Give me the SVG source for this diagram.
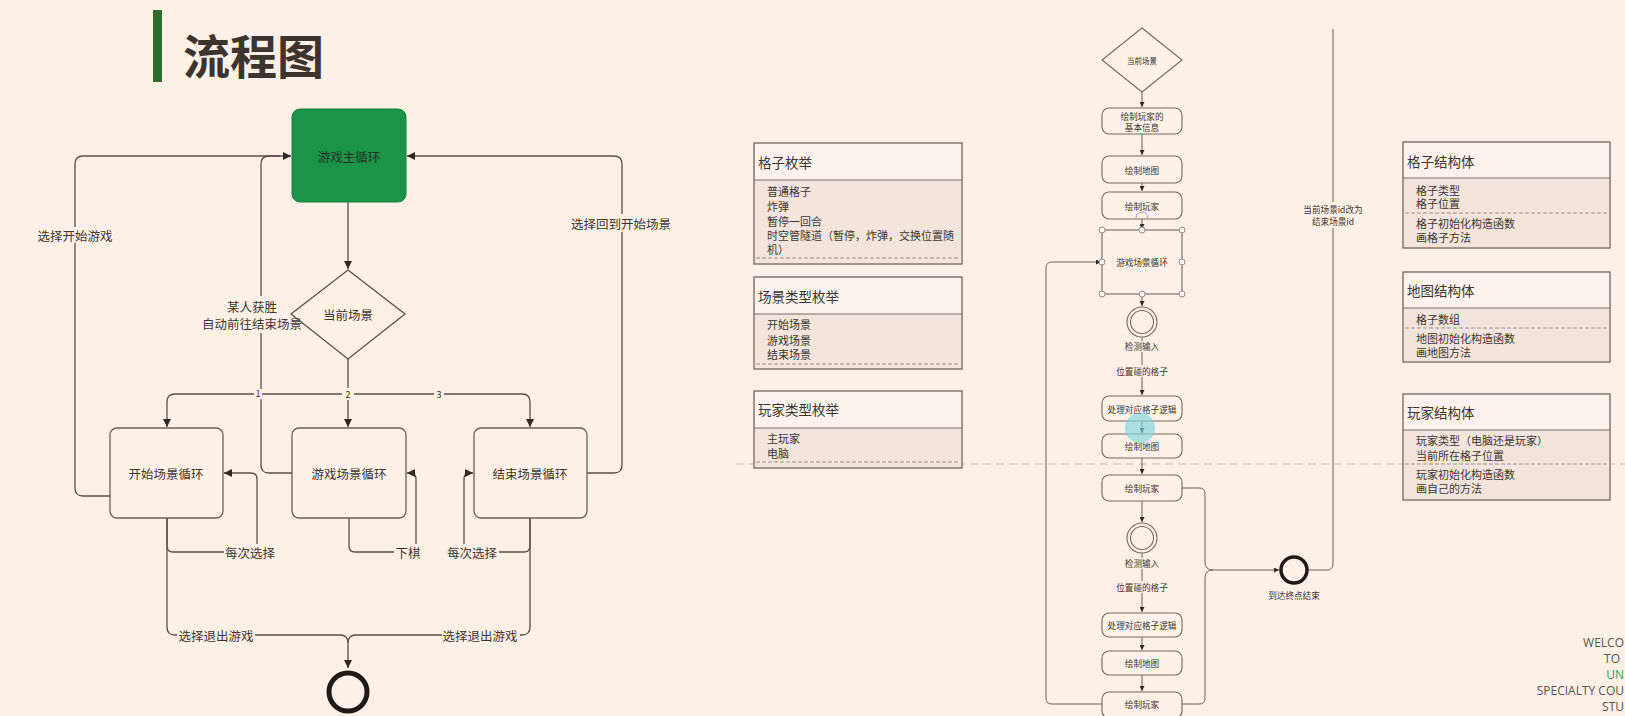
<svg xmlns="http://www.w3.org/2000/svg" width="1625" height="716" viewBox="0 0 1625 716">
<defs>
  <style>
    .bg{fill:#fdf0e6}
    .ln{fill:none;stroke:#5a4e48;stroke-width:1.3}
    .lnT{fill:none;stroke:#6a5e58;stroke-width:1}
    .box{fill:#fdf1e8;stroke:#6b5e57;stroke-width:1.3}
    .sbox{fill:#fdf1e8;stroke:#74685f;stroke-width:1.1}
    .hdr{fill:#fdf3ec;stroke:#7a6e67;stroke-width:1.4}
    .body{fill:#f3e5db}
    .sep{stroke:#7a6e67;stroke-width:1.2}
    .dash{stroke:#9b8f88;stroke-width:1;stroke-dasharray:4 2}
    .t{font-family:"Noto Sans CJK SC","Noto Sans",sans-serif;fill:#3b3531;dominant-baseline:central;text-anchor:middle}
    .l{text-anchor:start}
    .f12{font-size:12.5px}
    .f13{font-size:13.5px}
    .f11{font-size:11px}
    .f9{font-size:8.6px}
    .f7{font-size:7.5px}
    .h{fill:#fff;stroke:#8a7e77;stroke-width:0.9}
  </style>
  <marker id="arr" viewBox="0 0 10 10" refX="10" refY="5" markerWidth="8" markerHeight="8" markerUnits="userSpaceOnUse" orient="auto">
    <path d="M0,0 L10,5 L0,10 z" fill="#2f2824"/>
  </marker>
  <marker id="arrS" viewBox="0 0 10 10" refX="10" refY="5" markerWidth="5" markerHeight="5" markerUnits="userSpaceOnUse" orient="auto">
    <path d="M0,0 L10,5 L0,10 z" fill="#2f2824"/>
  </marker>
</defs>

<rect x="0" y="0" width="1625" height="716" class="bg"/>

<!-- page divider -->
<line x1="736" y1="464" x2="1625" y2="464" stroke="#c2b6ae" stroke-width="1" stroke-dasharray="8 5"/>

<!-- heading -->
<g id="title">
  <rect x="153" y="10" width="9" height="72" fill="#2e6b2c"/>
  <text x="183" y="53" class="t l" style="font-size:47px;font-weight:700;fill:#3d342e">流程图</text>
</g>

<!-- ===== scene flow (left) ===== -->
<g id="connectors-left">
  <!-- main loop -> scene choice -->
  <path class="ln" d="M348,202 V269" marker-end="url(#arr)"/>
  <!-- branch bus -->
  <path class="ln" d="M348,359 V394"/>
  <path class="ln" d="M348,394 H175 q-8,0 -8,8 V427" marker-end="url(#arr)"/>
  <path class="ln" d="M348,394 V427" marker-end="url(#arr)"/>
  <path class="ln" d="M348,394 H522 q8,0 8,8 V427" marker-end="url(#arr)"/>
  <!-- start scene -> main loop -->
  <path class="ln" d="M110,496 H83 q-8,0 -8,-8 V164 q0,-8 8,-8 H291" marker-end="url(#arr)"/>
  <!-- game scene -> main loop -->
  <path class="ln" d="M292,473 H269 q-8,0 -8,-8 V164 q0,-8 8,-8 H280"/>
  <!-- end scene -> main loop -->
  <path class="ln" d="M587,473 H614 q8,0 8,-8 V164 q0,-8 -8,-8 H407" marker-end="url(#arr)"/>
  <!-- self loops -->
  <path class="ln" d="M167,518 V546 q0,6 6,6 H251 q6,0 6,-6 V479 q0,-6 -6,-6 H224" marker-end="url(#arr)"/>
  <path class="ln" d="M349,518 V546 q0,6 6,6 H410 q6,0 6,-6 V479 q0,-6 -6,-6 H407" marker-end="url(#arr)"/>
  <path class="ln" d="M530,518 V546 q0,6 -6,6 H470 q-6,0 -6,-6 V479 q0,-6 6,-6 H473" marker-end="url(#arr)"/>
  <!-- exits -->
  <path class="ln" d="M167,518 V627 q0,8 8,8 H340 q8,0 8,8 V668" marker-end="url(#arr)"/>
  <path class="ln" d="M530,518 V627 q0,8 -8,8 H356 q-8,0 -8,8"/>

  <!-- labels on lines -->
  <rect x="36" y="227" width="78" height="16" class="bg"/>
  <text x="75" y="235" class="t f12">选择开始游戏</text>
  <rect x="250" y="296" width="22" height="37" class="bg"/>
  <text x="252" y="306" class="t f12">某人获胜</text>
  <text x="252" y="323" class="t f12">自动前往结束场景</text>
  <rect x="612" y="214" width="18" height="18" class="bg"/>
  <text x="621" y="223" class="t f12">选择回到开始场景</text>
  <rect x="224" y="544" width="53" height="16" class="bg"/>
  <text x="250" y="552" class="t f12">每次选择</text>
  <rect x="394" y="544" width="28" height="16" class="bg"/>
  <text x="408" y="552" class="t f12">下棋</text>
  <rect x="445" y="544" width="54" height="16" class="bg"/>
  <text x="472" y="552" class="t f12">每次选择</text>
  <rect x="177" y="627" width="78" height="16" class="bg"/>
  <text x="216" y="635" class="t f12">选择退出游戏</text>
  <rect x="442" y="627" width="78" height="16" class="bg"/>
  <text x="480" y="635" class="t f12">选择退出游戏</text>
  <rect x="254" y="389" width="8" height="10" class="bg"/>
  <text x="258" y="393" class="t" style="font-size:9px">1</text>
  <rect x="342" y="388" width="12" height="12" class="bg"/>
  <text x="348" y="394" class="t" style="font-size:9px">2</text>
  <rect x="434" y="388" width="10" height="12" class="bg"/>
  <text x="439" y="394" class="t" style="font-size:9px">3</text>
</g>

<g id="main-loop">
  <rect x="292" y="109" width="114" height="93" rx="8" fill="#1b9447" stroke="#178040" stroke-width="1"/>
  <text x="349" y="156" class="t f12" style="fill:#26302a">游戏主循环</text>
</g>
<g id="scene-choice">
  <polygon points="348,270 405,314 348,359 291,314" fill="none" stroke="#5a4e48" stroke-width="1.3"/>
  <text x="348" y="314" class="t f12">当前场景</text>
</g>
<g id="start-scene">
  <rect x="110" y="428" width="113" height="90" rx="7" class="box"/>
  <text x="166" y="473" class="t f12">开始场景循环</text>
</g>
<g id="game-scene">
  <rect x="292" y="428" width="114" height="90" rx="7" class="box"/>
  <text x="349" y="473" class="t f12">游戏场景循环</text>
</g>
<g id="end-scene">
  <rect x="474" y="428" width="113" height="90" rx="7" class="box"/>
  <text x="530" y="473" class="t f12">结束场景循环</text>
</g>
<g id="exit">
  <circle cx="348" cy="692" r="19" fill="none" stroke="#1f1a17" stroke-width="5"/>
</g>

<!-- ===== enum tables ===== -->
<g id="enum-cell">
  <rect x="754" y="143" width="208" height="121" class="hdr"/>
  <rect x="755" y="180" width="206" height="83" class="body"/>
  <line x1="754" y1="180" x2="962" y2="180" class="sep"/>
  <line x1="756" y1="258" x2="960" y2="258" class="dash"/>
  <text x="758" y="162" class="t l f13">格子枚举</text>
  <text x="767" y="191" class="t l f11">普通格子</text>
  <text x="767" y="206" class="t l f11">炸弹</text>
  <text x="767" y="221" class="t l f11">暂停一回合</text>
  <text x="767" y="235" class="t l f11">时空管隧道（暂停，炸弹，交换位置随</text>
  <text x="767" y="249" class="t l f11">机）</text>
</g>
<g id="enum-scene">
  <rect x="754" y="277" width="208" height="92" class="hdr"/>
  <rect x="755" y="314" width="206" height="54" class="body"/>
  <line x1="754" y1="314" x2="962" y2="314" class="sep"/>
  <line x1="756" y1="364" x2="960" y2="364" class="dash"/>
  <text x="758" y="296" class="t l f13">场景类型枚举</text>
  <text x="767" y="324" class="t l f11">开始场景</text>
  <text x="767" y="340" class="t l f11">游戏场景</text>
  <text x="767" y="354" class="t l f11">结束场景</text>
</g>
<g id="enum-player">
  <rect x="754" y="391" width="208" height="77" class="hdr"/>
  <rect x="755" y="428" width="206" height="39" class="body"/>
  <line x1="754" y1="428" x2="962" y2="428" class="sep"/>
  <line x1="756" y1="462" x2="960" y2="462" class="dash"/>
  <text x="758" y="409" class="t l f13">玩家类型枚举</text>
  <text x="767" y="438" class="t l f11">主玩家</text>
  <text x="767" y="453" class="t l f11">电脑</text>
</g>

<!-- ===== game scene loop (right) ===== -->
<g id="connectors-right">
  <path class="lnT" d="M1142,92 V107" marker-end="url(#arrS)"/>
  <path class="lnT" d="M1142,134 V155" marker-end="url(#arrS)"/>
  <path class="lnT" d="M1142,183 V191" marker-end="url(#arrS)"/>
  <path class="lnT" d="M1142,219 V229" marker-end="url(#arrS)"/>
  <path class="lnT" d="M1142,294 V306" marker-end="url(#arrS)"/>
  <path class="lnT" d="M1142,337 V395" marker-end="url(#arrS)"/>
  <path class="lnT" d="M1142,421 V433" marker-end="url(#arrS)"/>
  <path class="lnT" d="M1142,458 V474" marker-end="url(#arrS)"/>
  <path class="lnT" d="M1142,501 V522" marker-end="url(#arrS)"/>
  <path class="lnT" d="M1142,553 V612" marker-end="url(#arrS)"/>
  <path class="lnT" d="M1142,637 V650" marker-end="url(#arrS)"/>
  <path class="lnT" d="M1142,675 V691" marker-end="url(#arrS)"/>
  <!-- to finish -->
  <path class="lnT" d="M1182,488 H1199 q6,0 6,6 V562 q0,8 8,8 H1279" marker-end="url(#arrS)"/>
  <path class="lnT" d="M1182,704 H1199 q6,0 6,-6 V578 q0,-8 8,-8"/>
  <!-- back to scene loop -->
  <path class="lnT" d="M1102,704 H1052 q-6,0 -6,-6 V268 q0,-6 6,-6 H1101" marker-end="url(#arrS)"/>
  <!-- scene switch -->
  <path class="lnT" d="M1307,570 H1327 q6,0 6,-6 V29"/>

  <rect x="1122" y="341" width="40" height="11" class="bg"/>
  <text x="1142" y="346" class="t f9">检测输入</text>
  <rect x="1114" y="365" width="56" height="12" class="bg"/>
  <text x="1142" y="371" class="t f9">位置碰的格子</text>
  <rect x="1122" y="558" width="40" height="11" class="bg"/>
  <text x="1142" y="563" class="t f9">检测输入</text>
  <rect x="1114" y="581" width="56" height="12" class="bg"/>
  <text x="1142" y="587" class="t f9">位置碰的格子</text>
  <rect x="1301" y="202" width="64" height="26" class="bg"/>
  <text x="1333" y="209" class="t f9">当前场景id改为</text>
  <text x="1333" y="221" class="t f9">结束场景id</text>
</g>

<g id="r-scene">
  <polygon points="1142,28 1182,60 1142,92 1102,60" fill="#fdf1e8" stroke="#74685f" stroke-width="1.1"/>
  <text x="1142" y="60" class="t f7">当前场景</text>
</g>
<g id="r-info">
  <rect x="1102" y="108" width="80" height="26" rx="7" class="sbox"/>
  <text x="1142" y="116" class="t f9">绘制玩家的</text>
  <text x="1142" y="127" class="t f9">基本信息</text>
</g>
<g id="r-map1">
  <rect x="1102" y="156" width="80" height="27" rx="7" class="sbox"/>
  <text x="1142" y="169.5" class="t f9">绘制地图</text>
</g>
<g id="r-player1">
  <rect x="1102" y="192" width="80" height="27" rx="7" class="sbox"/>
  <text x="1142" y="205.5" class="t f9">绘制玩家</text>
  <path d="M1136,218 a6,6 0 0 1 12,0" fill="none" stroke="#a89d96" stroke-width="1"/>
</g>
<g id="r-loop">
  <rect x="1102" y="230" width="80" height="64" class="sbox"/>
  <text x="1142" y="262" class="t f9">游戏场景循环</text>
  <circle cx="1142" cy="262" r="2" fill="#f2b01e"/>
  <circle cx="1102" cy="230" r="3" class="h"/>
  <circle cx="1142" cy="230" r="3" class="h"/>
  <circle cx="1182" cy="230" r="3" class="h"/>
  <circle cx="1102" cy="262" r="3" class="h"/>
  <circle cx="1182" cy="262" r="3" class="h"/>
  <circle cx="1102" cy="294" r="3" class="h"/>
  <circle cx="1142" cy="294" r="3" class="h"/>
  <circle cx="1182" cy="294" r="3" class="h"/>
</g>
<g id="r-input1">
  <circle cx="1142" cy="322" r="15" fill="#fdf1e8" stroke="#74685f" stroke-width="1.1"/>
  <circle cx="1142" cy="322" r="11.5" fill="none" stroke="#74685f" stroke-width="1.1"/>
</g>
<g id="r-cell1">
  <rect x="1102" y="396" width="80" height="25" rx="7" class="sbox"/>
  <text x="1142" y="408.5" class="t f9">处理对应格子逻辑</text>
</g>
<g id="r-map2">
  <rect x="1102" y="434" width="80" height="24" rx="7" class="sbox"/>
  <text x="1142" y="446" class="t f9">绘制地图</text>
</g>
<g id="r-player2">
  <rect x="1102" y="475" width="80" height="26" rx="7" class="sbox"/>
  <text x="1142" y="488" class="t f9">绘制玩家</text>
</g>
<g id="r-input2">
  <circle cx="1142" cy="538" r="15" fill="#fdf1e8" stroke="#74685f" stroke-width="1.1"/>
  <circle cx="1142" cy="538" r="11.5" fill="none" stroke="#74685f" stroke-width="1.1"/>
</g>
<g id="r-cell2">
  <rect x="1102" y="613" width="80" height="24" rx="7" class="sbox"/>
  <text x="1142" y="625" class="t f9">处理对应格子逻辑</text>
</g>
<g id="r-map3">
  <rect x="1102" y="651" width="80" height="24" rx="7" class="sbox"/>
  <text x="1142" y="663" class="t f9">绘制地图</text>
</g>
<g id="r-player3">
  <rect x="1102" y="692" width="80" height="26" rx="7" class="sbox"/>
  <text x="1142" y="704" class="t f9">绘制玩家</text>
</g>
<g id="r-finish">
  <circle cx="1294" cy="570" r="13" fill="none" stroke="#1f1a17" stroke-width="3.5"/>
  <text x="1294" y="595" class="t f9">到达终点结束</text>
</g>
<!-- pointer highlight -->
<circle cx="1140" cy="428" r="15" fill="#7fd4dd" opacity="0.65"/>

<!-- ===== struct tables ===== -->
<g id="struct-cell">
  <rect x="1403" y="142" width="207" height="106" class="hdr"/>
  <rect x="1404" y="178" width="205" height="69" class="body"/>
  <line x1="1403" y1="178" x2="1610" y2="178" class="sep"/>
  <line x1="1405" y1="213" x2="1608" y2="213" class="dash"/>
  <text x="1407" y="161" class="t l f13">格子结构体</text>
  <text x="1416" y="190" class="t l f11">格子类型</text>
  <text x="1416" y="203" class="t l f11">格子位置</text>
  <text x="1416" y="223" class="t l f11">格子初始化构造函数</text>
  <text x="1416" y="237" class="t l f11">画格子方法</text>
</g>
<g id="struct-map">
  <rect x="1403" y="272" width="207" height="90" class="hdr"/>
  <rect x="1404" y="308" width="205" height="53" class="body"/>
  <line x1="1403" y1="308" x2="1610" y2="308" class="sep"/>
  <line x1="1405" y1="328" x2="1608" y2="328" class="dash"/>
  <text x="1407" y="290" class="t l f13">地图结构体</text>
  <text x="1416" y="319" class="t l f11">格子数组</text>
  <text x="1416" y="338" class="t l f11">地图初始化构造函数</text>
  <text x="1416" y="352" class="t l f11">画地图方法</text>
</g>
<g id="struct-player">
  <rect x="1403" y="394" width="207" height="106" class="hdr"/>
  <rect x="1404" y="430" width="205" height="69" class="body"/>
  <line x1="1403" y1="430" x2="1610" y2="430" class="sep"/>
  <line x1="1405" y1="464" x2="1608" y2="464" class="dash"/>
  <text x="1407" y="412" class="t l f13">玩家结构体</text>
  <text x="1416" y="440" class="t l f11">玩家类型（电脑还是玩家）</text>
  <text x="1416" y="455" class="t l f11">当前所在格子位置</text>
  <text x="1416" y="474" class="t l f11">玩家初始化构造函数</text>
  <text x="1416" y="488" class="t l f11">画自己的方法</text>
</g>

<!-- corner caption -->
<g id="caption" style="font-family:'Open Sans','Liberation Sans',sans-serif;font-size:12px;fill:#5a5450;text-anchor:end">
  <text x="1624" y="647">WELCO</text>
  <text x="1620" y="663">TO</text>
  <text x="1624" y="679" style="fill:#2fa35a">UN</text>
  <text x="1624" y="695">SPECIALTY COU</text>
  <text x="1624" y="711">STU</text>
</g>
</svg>
